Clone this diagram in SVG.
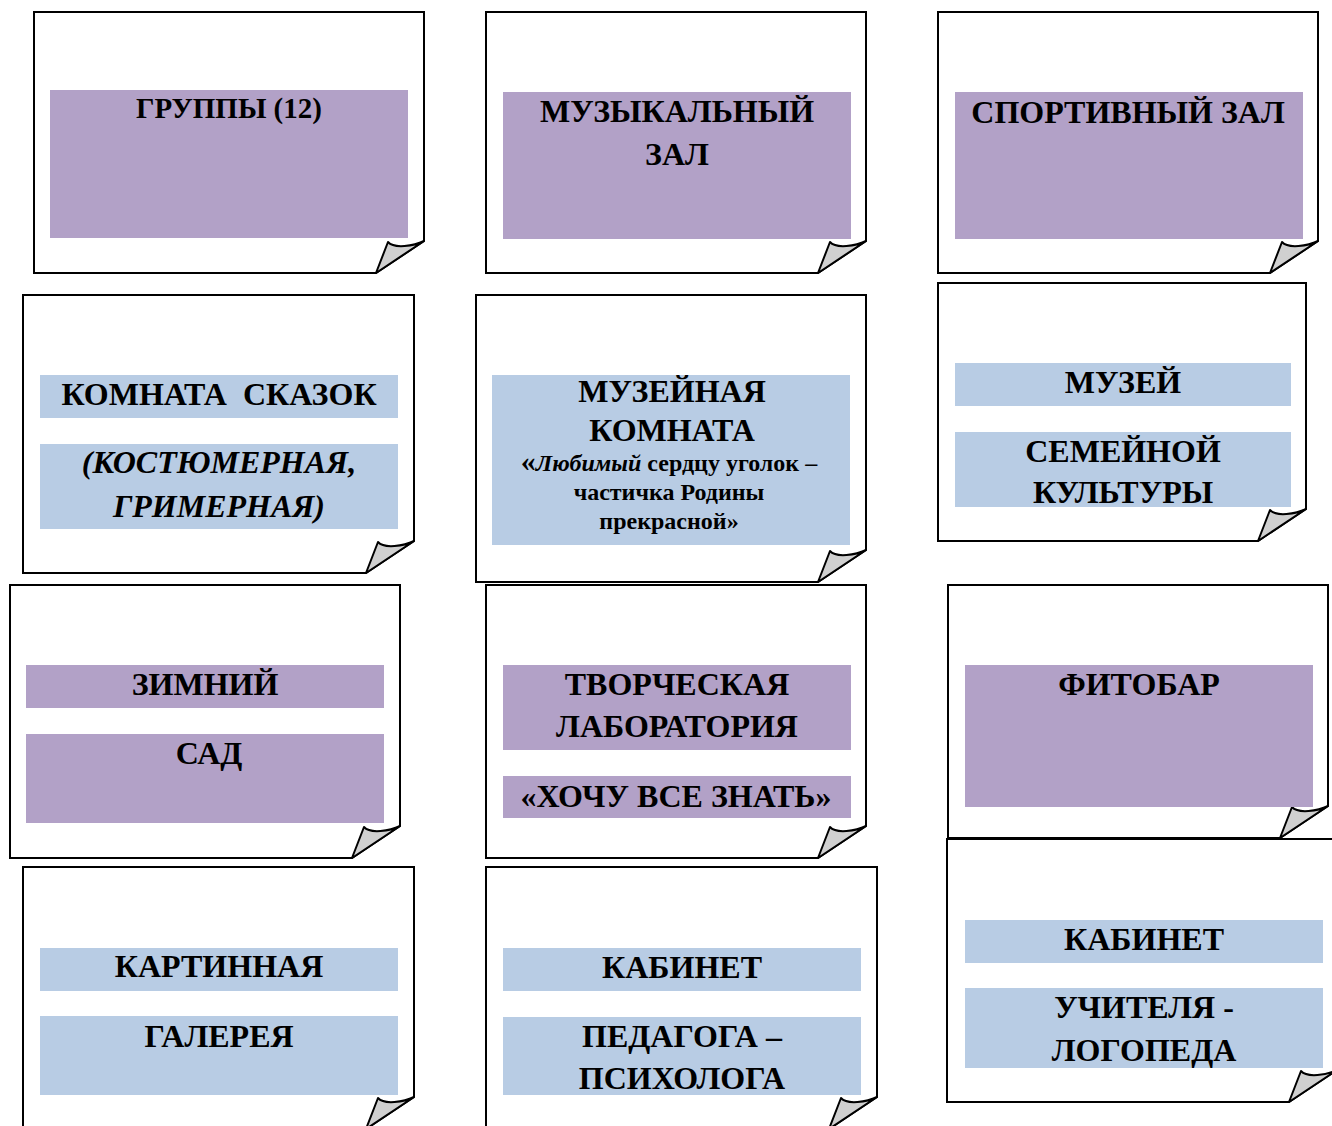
<svg xmlns="http://www.w3.org/2000/svg" width="1332" height="1126" viewBox="0 0 1332 1126">
<style>
.card{fill:#fff;stroke:#000;stroke-width:2;stroke-linejoin:miter}
.fold{fill:#d0d0d0;stroke:#000;stroke-width:2;stroke-linejoin:round}
.pu{fill:#b2a1c7}
.bl{fill:#b8cce4}
text{font-family:"Liberation Serif","Times New Roman",serif;font-weight:bold;text-anchor:middle;fill:#000}
.t{font-size:32px}
.s{font-size:24px}
.i{font-style:italic}
</style>
<rect width="1332" height="1126" fill="#fff"/>
<g id="n1">
<path class="card" d="M34,12 H424 V241 L376,273 H34 Z"/>
<path class="fold" d="M424,241 C414,246 394,249 388,242 L376,273 Z"/>
<rect class="pu" x="50" y="90" width="358" height="148"/>
<text x="229" y="118" style="font-size:29px">ГРУППЫ (12)</text>
</g>
<g id="n2">
<path class="card" d="M486,12 H866 V241 L818,273 H486 Z"/>
<path class="fold" d="M866,241 C856,246 836,249 830,242 L818,273 Z"/>
<rect class="pu" x="503" y="92" width="348" height="147"/>
<text class="t" x="677" y="122">МУЗЫКАЛЬНЫЙ</text>
<text class="t" x="677" y="165">ЗАЛ</text>
</g>
<g id="n3">
<path class="card" d="M938,12 H1318 V241 L1270,273 H938 Z"/>
<path class="fold" d="M1318,241 C1308,246 1288,249 1282,242 L1270,273 Z"/>
<rect class="pu" x="955" y="92" width="348" height="147"/>
<text class="t" x="1128" y="123">СПОРТИВНЫЙ ЗАЛ</text>
</g>
<g id="n4">
<path class="card" d="M23,295 H414 V541 L366,573 H23 Z"/>
<path class="fold" d="M414,541 C404,546 384,549 378,542 L366,573 Z"/>
<rect class="bl" x="40" y="375" width="358" height="43"/>
<rect class="bl" x="40" y="444" width="358" height="85"/>
<text class="t" x="219" y="405" xml:space="preserve">КОМНАТА  СКАЗОК</text>
<text class="t i" x="219" y="473">(КОСТЮМЕРНАЯ,</text>
<text class="t i" x="219" y="517">ГРИМЕРНАЯ)</text>
</g>
<g id="n5">
<path class="card" d="M476,295 H866 V550 L818,582 H476 Z"/>
<path class="fold" d="M866,550 C856,555 836,558 830,551 L818,582 Z"/>
<rect class="bl" x="492" y="375" width="358" height="170"/>
<text class="t" x="672" y="402">МУЗЕЙНАЯ</text>
<text class="t" x="672" y="441">КОМНАТА</text>
<text class="s" x="669" y="471"><tspan style="font-size:30px">«</tspan><tspan class="i">Любимый</tspan> сердцу уголок –</text>
<text class="s" x="669" y="500">частичка Родины</text>
<text class="s" x="669" y="529">прекрасной»</text>
</g>
<g id="n6">
<path class="card" d="M938,283 H1306 V509 L1258,541 H938 Z"/>
<path class="fold" d="M1306,509 C1296,514 1276,517 1270,510 L1258,541 Z"/>
<rect class="bl" x="955" y="363" width="336" height="43"/>
<rect class="bl" x="955" y="432" width="336" height="75"/>
<text class="t" x="1123" y="393">МУЗЕЙ</text>
<text class="t" x="1123" y="462">СЕМЕЙНОЙ</text>
<text class="t" x="1123" y="503">КУЛЬТУРЫ</text>
</g>
<g id="n7">
<path class="card" d="M10,585 H400 V826 L352,858 H10 Z"/>
<path class="fold" d="M400,826 C390,831 370,834 364,827 L352,858 Z"/>
<rect class="pu" x="26" y="665" width="358" height="43"/>
<rect class="pu" x="26" y="734" width="358" height="89"/>
<text class="t" x="205" y="695">ЗИМНИЙ</text>
<text class="t" x="209" y="764">САД</text>
</g>
<g id="n8">
<path class="card" d="M486,585 H866 V826 L818,858 H486 Z"/>
<path class="fold" d="M866,826 C856,831 836,834 830,827 L818,858 Z"/>
<rect class="pu" x="503" y="665" width="348" height="85"/>
<rect class="pu" x="503" y="776" width="348" height="42"/>
<text class="t" x="677" y="695">ТВОРЧЕСКАЯ</text>
<text class="t" x="677" y="737">ЛАБОРАТОРИЯ</text>
<text class="t" x="676" y="807">«ХОЧУ ВСЕ ЗНАТЬ»</text>
</g>
<g id="n9">
<path class="card" d="M948,585 H1328 V806 L1280,838 H948 Z"/>
<path class="fold" d="M1328,806 C1318,811 1298,814 1292,807 L1280,838 Z"/>
<rect class="pu" x="965" y="665" width="348" height="142"/>
<text class="t" x="1139" y="695">ФИТОБАР</text>
</g>
<g id="n10">
<path class="card" d="M23,867 H414 V1097 L366,1129 H23 Z"/>
<path class="fold" d="M414,1097 C404,1102 384,1105 378,1098 L366,1129 Z"/>
<rect class="bl" x="40" y="948" width="358" height="43"/>
<rect class="bl" x="40" y="1016" width="358" height="79"/>
<text class="t" x="219" y="977">КАРТИННАЯ</text>
<text class="t" x="219" y="1047">ГАЛЕРЕЯ</text>
</g>
<g id="n11">
<path class="card" d="M486,867 H877 V1097 L829,1129 H486 Z"/>
<path class="fold" d="M877,1097 C867,1102 847,1105 841,1098 L829,1129 Z"/>
<rect class="bl" x="503" y="948" width="358" height="43"/>
<rect class="bl" x="503" y="1017" width="358" height="78"/>
<text class="t" x="682" y="978">КАБИНЕТ</text>
<text class="t" x="682" y="1047">ПЕДАГОГА –</text>
<text class="t" x="682" y="1089">ПСИХОЛОГА</text>
</g>
<g id="n12">
<path class="card" d="M947,839 H1337 V1070 L1289,1102 H947 Z"/>
<path class="fold" d="M1337,1070 C1327,1075 1307,1078 1301,1071 L1289,1102 Z"/>
<rect class="bl" x="965" y="920" width="358" height="43"/>
<rect class="bl" x="965" y="988" width="358" height="80"/>
<text class="t" x="1144" y="950">КАБИНЕТ</text>
<text class="t" x="1144" y="1018">УЧИТЕЛЯ -</text>
<text class="t" x="1144" y="1061">ЛОГОПЕДА</text>
</g>
<g id="connectors"></g>
</svg>
